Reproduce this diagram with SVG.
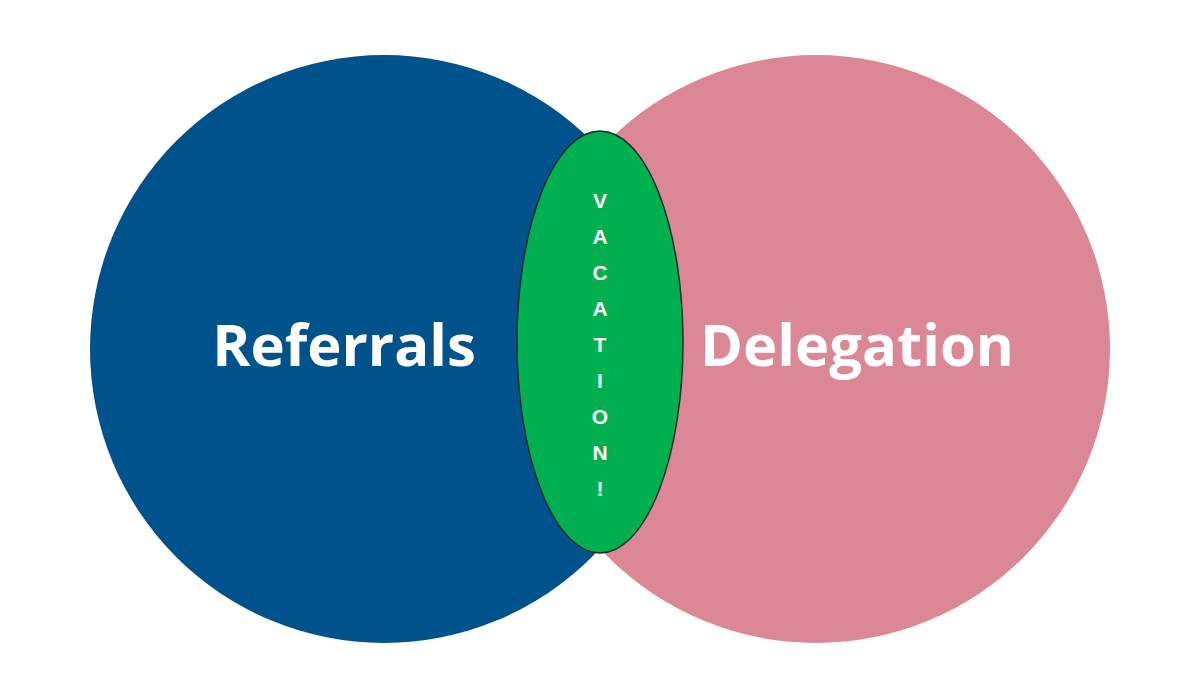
<svg xmlns="http://www.w3.org/2000/svg" width="1200" height="675" viewBox="0 0 1200 675">
<style>
.big{font-family:"Open Sans","Liberation Sans",sans-serif;font-weight:bold;font-size:58px;fill:#fff;text-anchor:middle}
.v{font-family:"Liberation Sans",sans-serif;font-weight:bold;font-size:21px;fill:#fff;text-anchor:middle}
</style>
<rect width="1200" height="675" fill="#fff"/>
<g id="referrals"><circle cx="384" cy="349" r="294" fill="#00528c"/></g>
<g id="delegation"><circle cx="816" cy="349" r="294" fill="#db8796"/></g>
<g id="referrals-label"><text class="big" x="344" y="366">Referrals</text></g>
<g id="delegation-label"><text class="big" x="857" y="366">Delegation</text></g>
<g id="vacation"><ellipse cx="600" cy="342" rx="83" ry="211" fill="#00b050" stroke="#1a2a2a" stroke-width="1.5"/>
<text class="v" x="600" y="208">V</text>
<text class="v" x="600" y="244">A</text>
<text class="v" x="600" y="280">C</text>
<text class="v" x="600" y="316">A</text>
<text class="v" x="600" y="352">T</text>
<text class="v" x="600" y="388">I</text>
<text class="v" x="600" y="424">O</text>
<text class="v" x="600" y="460">N</text>
<text class="v" x="600" y="496">!</text>
</g>
<g id="connectors"/>
</svg>
